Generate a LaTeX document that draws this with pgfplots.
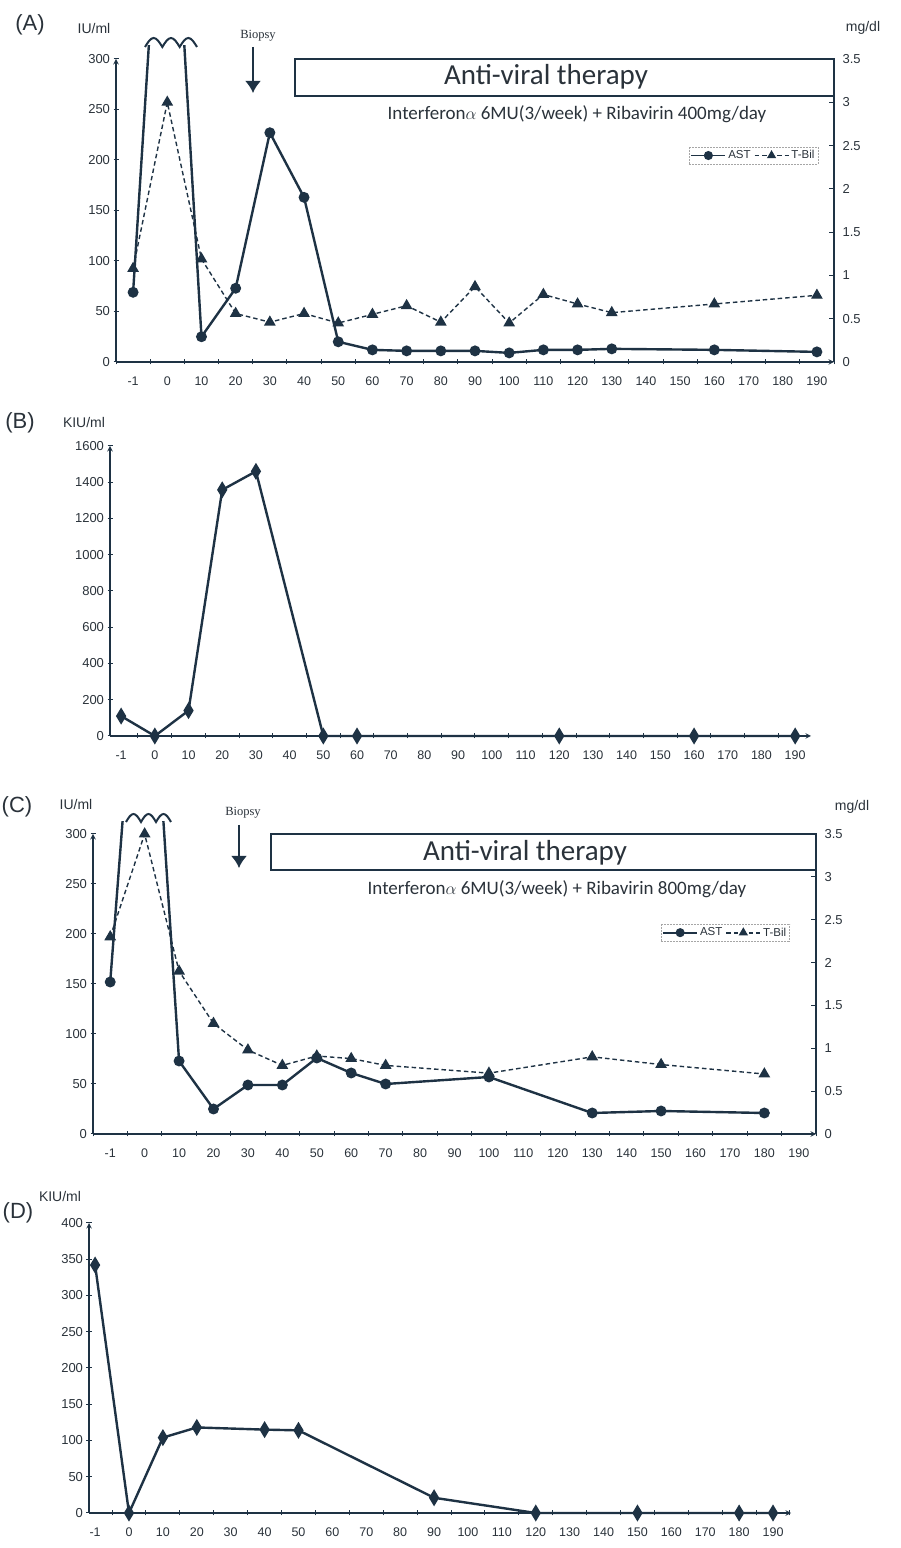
\documentclass[border=0pt]{standalone}
\usepackage{fontspec}
\setmainfont{Liberation Sans}
\newfontfamily\carlito{Carlito}
\newfontfamily\serifb{Liberation Serif}
\usepackage{pgfplots}
\pgfplotsset{compat=1.18}
\usetikzlibrary{arrows.meta}
\definecolor{ink}{RGB}{30,50,68}
\definecolor{txt}{RGB}{42,50,58}
\newcommand{\fs}[1]{\fontsize{#1}{#1}\selectfont}
\tikzset{
  aststyle/.style={ink, line width=2.4pt, mark=*, mark size=4.2pt, mark options={solid, fill=ink}},
  tbstyle/.style={ink, line width=1.4pt, dash pattern=on 4.5pt off 3pt, mark=triangle*, mark size=5.4pt, mark options={solid, fill=ink}},
  vstyle/.style={ink, line width=2.4pt, mark=diamond*, mark size=5pt, mark options={solid, fill=ink, yscale=1.25}},
}
\pgfplotsset{
  base/.style={
    scale only axis, anchor=south west,
    axis line style={ink, line width=1.4pt, -},
    tick style={ink, line width=1pt},
    tick align=inside,
    major tick length=5pt, minor tick length=5pt,
    xtick={0,...,20},
    xticklabels={-1,0,10,20,30,40,50,60,70,80,90,100,110,120,130,140,150,160,170,180,190},
    major x tick style={draw=none},
    minor xtick={-0.5,0.5,...,20.5},
    xticklabel style={font=\fs{12.5}, text=txt, yshift=-9pt},
    yticklabel style={font=\fs{13}, text=txt},
    /pgf/number format/assume math mode=true,
    /pgf/number format/1000 sep={},
    ymin=0,
  },
  rightax/.style={
    base, axis x line=none, axis y line*=right, ymin=0, ymax=3.5,
    ytick={0,0.5,1,1.5,2,2.5,3,3.5},
    yticklabel style={font=\fs{13}, text=txt, xshift=5pt},
    clip=false,
    legend columns=2,
    legend cell align=left,
    legend style={draw=gray!70, densely dotted, line width=0.5pt, fill=white,
      font=\fs{11.5}, text=txt, inner sep=1.5pt,
      /tikz/every even column/.append style={column sep=1pt}},
    legend image code/.code={\draw[mark repeat=2, mark phase=2, ##1, line width=1.8pt, mark size=3.6pt] plot coordinates {(0pt,0pt) (17pt,0pt) (34pt,0pt)};},
  },
}
\begin{document}
\begin{tikzpicture}
\useasboundingbox (0,0) rectangle (900pt,1548pt);

% ---------------- (A) ----------------
\begin{axis}[base, at={(116pt,1186pt)}, width=718pt, height=303pt,
  xmin=-0.5, xmax=20.5, ymax=300, ytick={0,50,...,300}, axis lines=left, clip=false]
\begin{scope}
\clip (axis cs:-0.5,-30) rectangle (axis cs:20.5,313);
\addplot[aststyle, mark indices={1,3,4,5,6,7,8,9,10,11,12,13,14,15,16,17}] coordinates {(0,69) (1,600) (2,25) (3,73) (4,227) (5,163) (6,20) (7,12) (8,11) (9,11) (10,11) (11,9) (12,12) (13,12) (14,13) (17,12) (20,10)};
\end{scope}
\end{axis}
\begin{axis}[rightax, at={(116pt,1186pt)}, width=718pt, height=303pt,
  xmin=-0.5, xmax=20.5, legend style={at={(0.978,0.71)}, anchor=north east}]
\addlegendimage{aststyle}
\addlegendentry{AST}
\addplot[tbstyle] coordinates {(0,1.08) (1,3.0) (2,1.19) (3,0.56) (4,0.46) (5,0.56) (6,0.45) (7,0.55) (8,0.65) (9,0.46) (10,0.87) (11,0.45) (12,0.78) (13,0.67) (14,0.57) (17,0.67) (20,0.77)};
\addlegendentry{T-Bil}
\end{axis}

% ---------------- (B) ----------------
\begin{axis}[base, at={(110pt,812pt)}, width=701pt, height=290pt,
  xmin=-0.33, xmax=20.47, ymax=1600, ytick={0,200,...,1600}, axis lines=left, clip=false]
\addplot[vstyle] coordinates {(0,110) (1,0) (2,140) (3,1358) (4,1460) (6,0) (7,0) (13,0) (17,0) (20,0)};
\end{axis}

% ---------------- (C) ----------------
\begin{axis}[base, at={(93pt,414pt)}, width=723pt, height=300pt,
  xmin=-0.5, xmax=20.5, ymax=300, ytick={0,50,...,300}, axis lines=left, clip=false]
\begin{scope}
\clip (axis cs:-0.5,-30) rectangle (axis cs:20.5,312);
\addplot[aststyle, mark indices={1,3,4,5,6,7,8,9,10,11,12,13}] coordinates {(0,152) (1,600) (2,73) (3,25) (4,49) (5,49) (6,76) (7,61) (8,50) (11,57) (14,21) (16,23) (19,21)};
\end{scope}
\end{axis}
\begin{axis}[rightax, at={(93pt,414pt)}, width=723pt, height=300pt,
  xmin=-0.5, xmax=20.5, legend style={at={(0.964,0.70)}, anchor=north east}]
\addlegendimage{aststyle}
\addlegendentry{AST}
\addplot[tbstyle] coordinates {(0,2.3) (1,3.5) (2,1.9) (3,1.29) (4,0.98) (5,0.8) (6,0.91) (7,0.88) (8,0.8) (11,0.71) (14,0.9) (16,0.81) (19,0.7)};
\addlegendentry{T-Bil}
\end{axis}

% ---------------- (D) ----------------
\begin{axis}[base, at={(89pt,35pt)}, width=702pt, height=290pt,
  xmin=-0.18, xmax=20.53, ymax=400, ytick={0,50,...,400}, axis lines=left, clip=false]
\addplot[vstyle] coordinates {(0,342) (1,0) (2,104) (3,118) (5,115) (6,114) (10,21) (13,0) (16,0) (19,0) (20,0)};
\end{axis}

% ---------------- annotations ----------------
\begin{scope}[shift={(0pt,1548pt)}, x=1pt, y=-1pt]
  % A
  \node[font=\fs{22}, text=txt] at (30,25) {(A)};
  \node[font=\fs{14}, text=txt] at (94,29) {IU/ml};
  \node[font=\serifb\fs{12.5}, text=txt] at (258,36) {Biopsy};
  \draw[ink, line width=2.2pt, -{Latex[length=12pt,width=16pt]}] (253,47) -- (253,93);
  \draw[ink, line width=2pt] (145,47) sin (153.67,38) cos (162.33,47) sin (171,38) cos (179.67,47) sin (188.33,38) cos (197,47);
  \draw[ink, line width=1.8pt] (295,59) rectangle (834,96);
  \node[font=\carlito\fs{29}, text=txt] at (546,77) {Anti-viral therapy};
  \node[font=\carlito\fs{19}, text=txt] at (577,114) {Interferon$\alpha$ 6MU(3/week) + Ribavirin 400mg/day};
  \node[font=\fs{14}, text=txt] at (863,28) {mg/dl};
  % B
  \node[font=\fs{22}, text=txt] at (20,423) {(B)};
  \node[font=\fs{14}, text=txt] at (84,423) {KIU/ml};
  % C
  \node[font=\fs{22}, text=txt] at (17,807) {(C)};
  \node[font=\fs{14}, text=txt] at (76,805) {IU/ml};
  \node[font=\serifb\fs{12.5}, text=txt] at (243,813) {Biopsy};
  \draw[ink, line width=2.2pt, -{Latex[length=12pt,width=16pt]}] (239,825) -- (239,868);
  \draw[ink, line width=2pt] (126,822) sin (133.5,814) cos (141,822) sin (148.5,814) cos (156,822) sin (163.5,814) cos (171,822);
  \draw[ink, line width=1.8pt] (271,834) rectangle (816,870);
  \node[font=\carlito\fs{29}, text=txt] at (525,853) {Anti-viral therapy};
  \node[font=\carlito\fs{19}, text=txt] at (557,889) {Interferon$\alpha$ 6MU(3/week) + Ribavirin 800mg/day};
  \node[font=\fs{14}, text=txt] at (852,807) {mg/dl};
  % D
  \node[font=\fs{22}, text=txt] at (18,1213) {(D)};
  \node[font=\fs{14}, text=txt] at (60,1196) {KIU/ml};
\end{scope}
\end{tikzpicture}
\end{document}
